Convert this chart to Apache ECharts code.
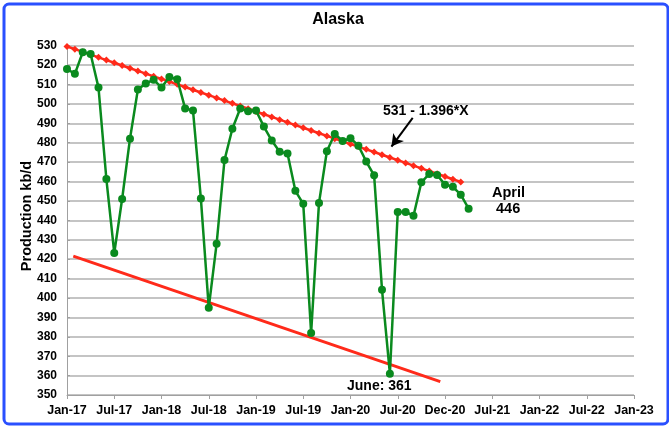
<!DOCTYPE html>
<html>
<head>
<meta charset="utf-8">
<script src="https://cdn.jsdelivr.net/npm/echarts@6/dist/echarts.min.js"></script>
<style>
html,body{margin:0;padding:0;background:#fff;}
#c{width:669px;height:427px;}
</style>
</head>
<body>
<div id="c"></div>
<script>
// Month index 0 = Jan-17
const xTickLabels = ['Jan-17','Jul-17','Jan-18','Jul-18','Jan-19','Jul-19','Jan-20','Jul-20','Dec-20','Jul-21','Jan-22','Jul-22','Jan-23'];
// Alaska production kb/d, Jan-17 .. Apr-21
const production = [518,515.5,526.6,525.7,508.4,461.3,423.2,451,482.1,507.4,510.5,512.5,
  508.4,513.9,512.7,497.7,496.6,451.2,395,428,471.1,487.2,497.6,496.2,
  496.6,488.3,481.1,475.4,474.4,455.2,448.5,382,449,475.6,484.5,480.9,
  482.3,478.5,470.3,463.2,404.3,361,444.3,444.3,442.4,459.6,463.9,463.4,
  458.4,457.3,453.2,446];
// Upper trend line: 531 - 1.396*X, X = 1..51
const upperTrend = [529.6,528.2,526.8,525.4,524.0,522.6,521.2,519.8,518.4,517.0,515.6,514.2,
  512.9,511.5,510.1,508.7,507.3,505.9,504.5,503.1,501.7,500.3,498.9,497.5,
  496.1,494.7,493.3,491.9,490.5,489.1,487.7,486.3,484.9,483.5,482.1,480.7,
  479.3,478.0,476.6,475.2,473.8,472.4,471.0,469.6,468.2,466.8,465.4,464.0,
  462.6,461.2,459.8];
// Lower support line endpoints [monthIndex, value]
const lowerLine = [[0.8, 421.6], [47.4, 356.9]];
const arrowFrom = [43.9, 492.8];
const arrowTo = [41.2, 478];
const yAxisTitle = 'Production kb/d';

const prodData = production.map((v, i) => [i, v]);
const upperData = upperTrend.map((v, i) => [i, v]);

const FONT = 'Liberation Sans, Arial, sans-serif';
const chart = echarts.init(document.getElementById('c'));
const bold = {fontFamily: FONT, fontWeight: 'bold', color: '#000'};
chart.setOption({
  animation: false,
  backgroundColor: '#fff',
  title: {text: 'Alaska', left: 333, top: 7, textAlign: 'center',
    textStyle: Object.assign({}, bold, {fontSize: 16})},
  grid: {left: 67, right: 35, top: 45.7, bottom: 32},
  xAxis: {
    type: 'value', min: 0, max: 72, interval: 6,
    axisLine: {show: true, lineStyle: {color: '#a0a0a0', width: 1}},
    axisTick: {show: true, length: 4, lineStyle: {color: '#a0a0a0'}},
    splitLine: {show: false},
    axisLabel: Object.assign({}, bold, {fontSize: 12.5, margin: 9,
      formatter: v => xTickLabels[Math.round(v / 6)] || ''})
  },
  yAxis: {
    type: 'value', min: 350, max: 530, interval: 10,
    axisLine: {show: true, lineStyle: {color: '#a0a0a0', width: 1}},
    axisTick: {show: true, inside: true, length: 3, lineStyle: {color: '#a0a0a0'}},
    splitLine: {show: true, lineStyle: {color: '#c4c4c4', width: 2}},
    axisLabel: Object.assign({}, bold, {fontSize: 12, margin: 10})
  },
  series: [
    {
      type: 'line', data: lowerLine, showSymbol: false, symbol: 'none',
      lineStyle: {color: '#ff2a1a', width: 3}, z: 2
    },
    {
      type: 'line', data: upperData, symbol: 'diamond', symbolSize: 7,
      itemStyle: {color: '#ff2a1a'}, lineStyle: {color: '#ff2a1a', width: 2.5}, z: 3
    },
    {
      type: 'line', data: prodData, symbol: 'circle', symbolSize: 8,
      itemStyle: {color: '#0a8a1e'}, lineStyle: {color: '#0a8a1e', width: 2.5}, z: 4,
      markLine: {
        silent: true, symbol: ['none', 'arrow'], symbolSize: [10, 12],
        label: {show: false},
        lineStyle: {color: '#000', width: 2, type: 'solid'},
        data: [[{coord: arrowFrom}, {coord: arrowTo}]]
      }
    }
  ],
  graphic: [
    {type: 'rect', left: 1.5, top: 1.5, shape: {width: 664, height: 420, r: 5},
      style: {fill: 'none', stroke: '#2a50ff', lineWidth: 3}, z: 100},
    {type: 'text', x: 27, y: 216, rotation: Math.PI / 2,
      style: {text: yAxisTitle, fill: '#000', font: 'bold 14.5px ' + FONT, align: 'center', verticalAlign: 'middle'}},
    {type: 'text', left: 383, top: 104, style: {text: '531 - 1.396*X', fill: '#000', font: 'bold 14px ' + FONT}},
    {type: 'text', left: 492, top: 185, style: {text: 'April', fill: '#000', font: 'bold 14.5px ' + FONT}},
    {type: 'text', left: 496, top: 201, style: {text: '446', fill: '#000', font: 'bold 14.5px ' + FONT}},
    {type: 'text', left: 347, top: 379, style: {text: 'June: 361', fill: '#000', font: 'bold 14px ' + FONT}}
  ]
});
</script>
</body>
</html>
